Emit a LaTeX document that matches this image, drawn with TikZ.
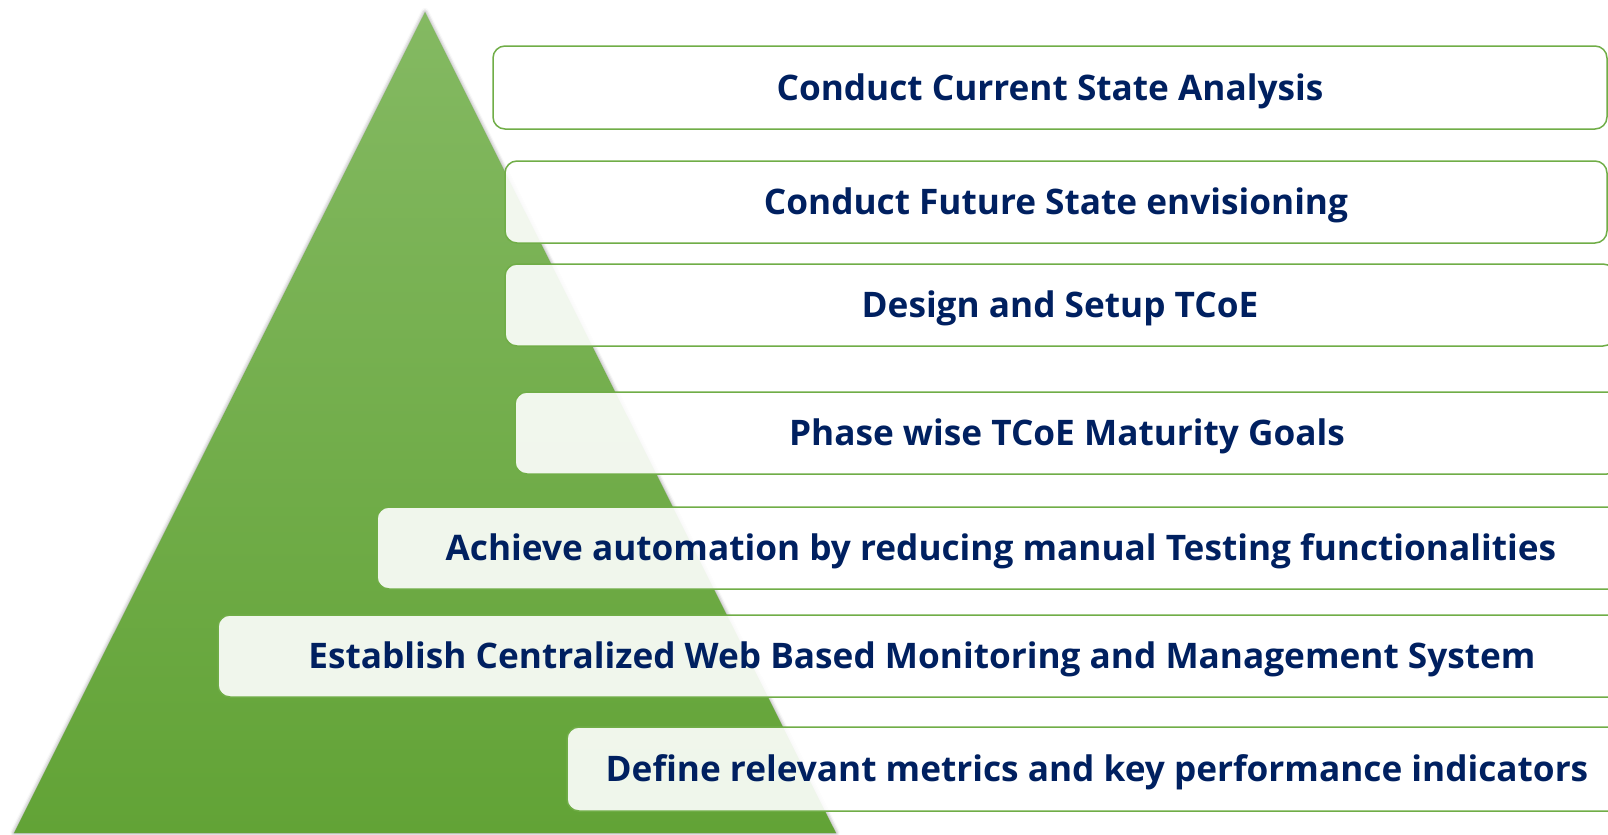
\documentclass[tikz,border=0pt]{standalone}
\usepackage{fontspec}
\setmainfont{Open Sans}
\usetikzlibrary{shadows.blur}

\definecolor{stepgreen}{RGB}{112,173,71}
\definecolor{pyrtop}{RGB}{132,185,98}
\definecolor{pyrbottom}{RGB}{98,163,54}
\definecolor{stepnavy}{RGB}{0,32,96}

\tikzset{
	goal/.style={draw=stepgreen, line width=0.75pt, fill=white, fill opacity=0.9,
		text opacity=1, rounded corners=6pt, text=stepnavy, inner sep=0pt,
		font=\fontsize{17.6}{21}\selectfont\bfseries,
		text height=12.6pt, text depth=0pt, minimum height=41pt}
}

\begin{document}
\begin{tikzpicture}[x=0.5pt,y=-0.5pt]
	\useasboundingbox (0,0) rectangle (1608,835);
	\clip (0,0) rectangle (1608,835);
	% pyramid
	\shade[top color=pyrtop, bottom color=pyrbottom,
		blur shadow={shadow xshift=0pt, shadow yshift=0pt, shadow blur radius=2pt, shadow opacity=45}]
		(425,12) -- (836,833) -- (14,833) -- cycle;
	% steps
	\node[goal, minimum width=557pt, minimum height=41.5pt] (analysis) at (1050,87.5) {Conduct Current State Analysis};
	\node[goal, minimum width=551pt] (future) at (1056,202) {Conduct Future State envisioning};
	\node[goal, minimum width=555pt] (design) at (1060,305) {Design and Setup TCoE};
	\node[goal, minimum width=552pt] (phase) at (1067,433) {Phase wise TCoE Maturity Goals};
	\node[goal, minimum width=624pt] (automation) at (1001,548) {Achieve automation by reducing manual Testing functionalities};
	\node[goal, minimum width=704pt] (monitoring) at (922,656) {Establish Centralized Web Based Monitoring and Management System};
	\node[goal, minimum width=530pt, minimum height=42pt] (metrics) at (1097,769) {Define relevant metrics and key performance indicators};
\end{tikzpicture}
\end{document}
